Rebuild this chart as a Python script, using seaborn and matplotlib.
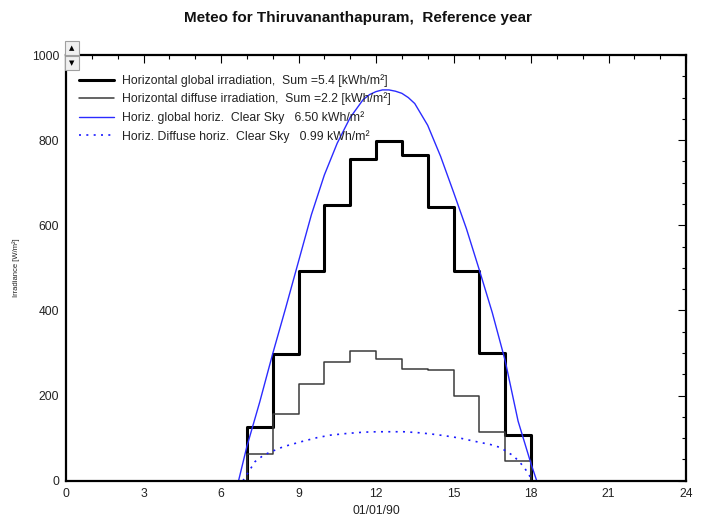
import numpy as np
import pandas as pd
import matplotlib
matplotlib.use("Agg")
import matplotlib.pyplot as plt
import seaborn as sns
from matplotlib.patches import Rectangle

# ---------------- data ----------------
hour_start = [7, 8, 9, 10, 11, 12, 13, 14, 15, 16, 17]
global_irr = [125, 298, 493, 648, 756, 799, 765, 642, 493, 299, 107]
diffuse_irr = [63, 157, 226, 278, 304, 286, 262, 261, 200, 114, 47]

cs_global_h = [6.68, 7.0, 7.5, 8.0, 8.5, 9.0, 9.5, 10.0, 10.5, 11.0, 11.5, 11.75,
               12.0, 12.25, 12.5, 12.75, 13.0, 13.25, 13.5, 14.0, 14.5, 15.0,
               15.5, 16.0, 16.5, 17.0, 17.5, 18.0, 18.22]
cs_global_v = [0, 80, 185, 298, 405, 515, 625, 718, 793, 853, 895, 907,
               914, 918, 918, 915, 910, 900, 886, 835, 762, 678,
               592, 495, 395, 282, 140, 40, 0]

cs_diff_h = [6.85, 7.07, 7.32, 7.65, 7.9, 8.42, 9.13, 9.71, 10.23, 10.88, 11.52,
             12.04, 12.56, 13.07, 13.59, 14.1, 14.62, 15.26, 15.78, 16.43, 16.81,
             17.07, 17.33, 17.72, 17.97, 18.05]
cs_diff_v = [0, 21, 45, 60, 67, 80, 92, 101, 107, 111, 114,
             115, 115, 115, 113, 110, 106, 100, 93, 85, 78,
             68, 58, 33, 9, 0]

labels = ["Horizontal global irradiation,  Sum =5.4 [kWh/m\u00b2]",
          "Horizontal diffuse irradiation,  Sum =2.2 [kWh/m\u00b2]",
          "Horiz. global horiz.  Clear Sky   6.50 kWh/m\u00b2",
          "Horiz. Diffuse horiz.  Clear Sky   0.99 kWh/m\u00b2"]

title = "Meteo for Thiruvananthapuram,  Reference year"
xlabel = "01/01/90"
ylabel = "Irradiance [W/m\u00b2]"

# ---------------- build step tables ----------------
step_x = [hour_start[0]] + hour_start + [hour_start[-1] + 1]
g_df = pd.DataFrame({"x": step_x, "y": [0] + global_irr + [0]})
d_df = pd.DataFrame({"x": step_x, "y": [0] + diffuse_irr + [0]})
cg_df = pd.DataFrame({"x": cs_global_h, "y": cs_global_v})
cd_df = pd.DataFrame({"x": cs_diff_h, "y": cs_diff_v})

sns.set_style("white")
plt.rcParams["font.family"] = ["Liberation Sans", "DejaVu Sans"]

fig = plt.figure(figsize=(7.02, 5.16), dpi=100)
W, H = 702, 516
ax_l, ax_r, ax_t, ax_b = 66, 686, 55, 480.7
ax = fig.add_axes([ax_l / W, 1 - ax_b / H, (ax_r - ax_l) / W, (ax_b - ax_t) / H])

sns.lineplot(data=g_df, x="x", y="y", ax=ax, sort=False, estimator=None,
             drawstyle="steps-post", color="black", lw=2.2, label=labels[0])
sns.lineplot(data=d_df, x="x", y="y", ax=ax, sort=False, estimator=None,
             drawstyle="steps-post", color="#3a3a3a", lw=1.1, label=labels[1])
sns.lineplot(data=cg_df, x="x", y="y", ax=ax, sort=False, estimator=None,
             color="#2b2bff", lw=1.0, label=labels[2])
sns.lineplot(data=cd_df, x="x", y="y", ax=ax, sort=False, estimator=None,
             color="#1a1aff", lw=1.2, linestyle=(0, (1.2, 3.2)), label=labels[3])

ax.set_xlim(0, 24)
ax.set_ylim(0, 1000)
ax.set_xticks(np.arange(0, 25, 3))
ax.set_xticks(np.arange(0, 25, 1), minor=True)
ax.set_yticks(np.arange(0, 1001, 200))
ax.set_yticks(np.arange(0, 1001, 50), minor=True)
ax.tick_params(which="both", direction="in", top=True, right=True,
               color="black", width=0.8, labelsize=8.7, labelcolor="#222222")
ax.tick_params(which="major", length=5.5)
ax.tick_params(which="minor", length=3)
ax.tick_params(axis="x", pad=5)
ax.tick_params(axis="y", pad=5)
for s in ax.spines.values():
    s.set_visible(True)
    s.set_color("black")
    s.set_linewidth(1.6)

ax.set_xlabel(xlabel, fontsize=8.7, color="#222222", labelpad=3.5)
ax.set_ylabel("")
fig.text(16 / W, 1 - 268 / H, ylabel, rotation=90, fontsize=5.5,
         ha="center", va="center", color="#222222")

fig.text(358 / W, 1 - 18 / H, title, fontsize=11, fontweight="bold",
         ha="center", va="center", color="#111111")

leg = ax.legend(loc="upper left", bbox_to_anchor=((79 - ax_l) / (ax_r - ax_l), 1 - 19 / (ax_b - ax_t)),
                frameon=False, fontsize=8.8, handlelength=2.85, handletextpad=0.7,
                labelspacing=0.47, borderpad=0, borderaxespad=0)
for t in leg.get_texts():
    t.set_color("#222222")

# small scroll buttons at the top-left corner
for (y0, sym) in [(41, "\u25b2"), (56, "\u25bc")]:
    fig.patches.append(Rectangle((65 / W, 1 - (y0 + 14) / H), 14 / W, 13.5 / H,
                                 transform=fig.transFigure, facecolor="#f0f0f0",
                                 edgecolor="#a0a0a0", lw=0.8, zorder=5))
    fig.text(72 / W, 1 - (y0 + 7) / H, sym, fontsize=5, ha="center", va="center",
             family="DejaVu Sans", color="black", zorder=6)

fig.savefig("out.png", dpi=100)
